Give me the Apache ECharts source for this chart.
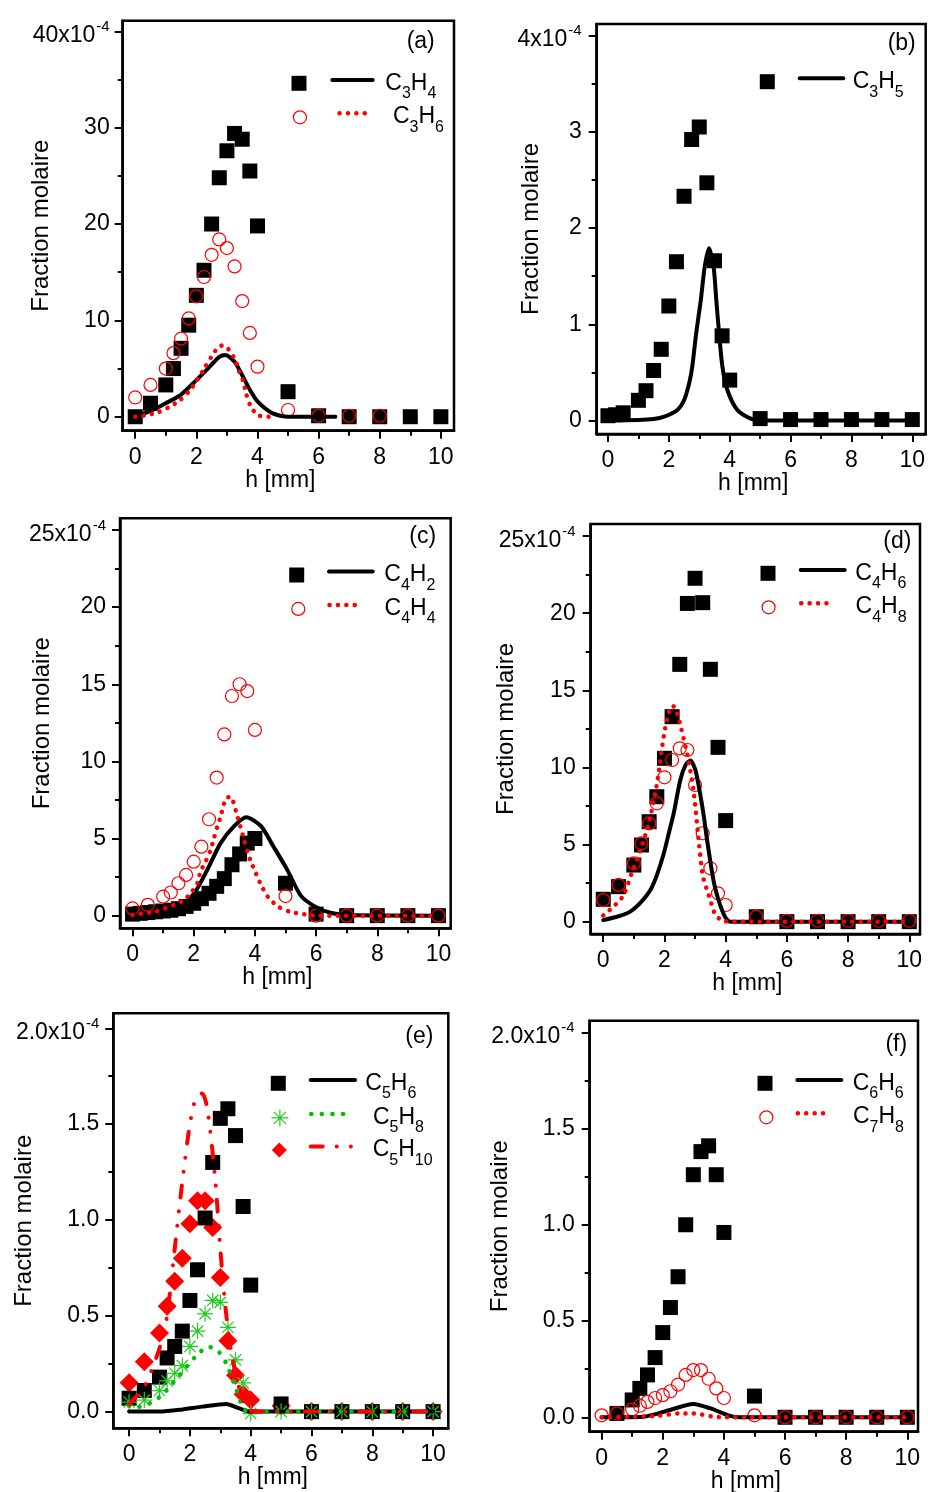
<!DOCTYPE html>
<html><head><meta charset="utf-8">
<script src="https://cdn.jsdelivr.net/npm/echarts@6/dist/echarts.min.js"></script>
<style>html,body{margin:0;padding:0;background:#fff}#c{width:928px;height:1492px}</style>
</head><body><div id="c"></div>
<script>
// ---------------- DATA ----------------
const hTickLabels = [0, 2, 4, 6, 8, 10];
const hMinorTicks = [1, 3, 5, 7, 9];

const aTicks = [0, 10, 20, 30, 40];        const aMinor = [5, 15, 25, 35];
const bTicks = [0, 1, 2, 3, 4];            const bMinor = [0.5, 1.5, 2.5, 3.5];
const cdTicks = [0, 5, 10, 15, 20, 25];    const cdMinor = [2.5, 7.5, 12.5, 17.5, 22.5];
const efTicks = [0, 0.5, 1, 1.5, 2];       const efMinor = [0.25, 0.75, 1.25, 1.75];

// (a)
const a_h_C3H4 = [0,0.5,1,1.25,1.5,1.75,2,2.25,2.5,2.75,3,3.25,3.5,3.75,4,5,6,7,8,9,10];
const a_C3H4 = [0,1.4,3.3,5.0,7.1,9.5,12.6,15.2,20.0,24.8,27.6,29.4,28.8,25.5,19.8,2.6,0.1,0,0,0,0];
const a_h_C3H6 = [0,0.5,1,1.25,1.5,1.75,2,2.25,2.5,2.75,3,3.25,3.5,3.75,4,5,6,7,8];
const a_C3H6 = [2.0,3.3,5.0,6.6,8.1,10.2,12.5,14.5,16.8,18.4,17.5,15.6,12.0,8.7,5.2,0.7,0.1,0.1,0.1];
const a_hm_C3H4 = [0,0.5,1,1.5,2,2.5,2.75,2.95,3.25,3.5,3.75,4,4.5,5,5.5,6.55];
const a_m_C3H4 = [0,0.6,1.4,2.3,3.8,5.4,6.2,6.4,5.7,4.3,2.8,1.6,0.35,0,0,0];
const a_hm_C3H6 = [0,0.38,0.71,1.09,1.47,1.78,2.04,2.26,2.48,2.73,2.88,3.05,3.27,3.38,3.52,3.63,3.76,4.0,4.4];
const a_m_C3H6 = [0,0.17,0.42,0.97,1.73,2.7,3.87,5.0,6.16,7.27,7.4,7.0,5.9,4.85,3.8,2.4,1.21,0.17,0];

// (b)
const b_h_C3H5 = [0,0.25,0.5,1,1.25,1.5,1.75,2,2.25,2.5,2.75,3,3.25,3.5,3.75,4,5,6,7,8,9,10];
const b_C3H5 = [0.05,0.06,0.08,0.21,0.31,0.52,0.74,1.19,1.65,2.33,2.92,3.05,2.47,1.66,0.88,0.42,0.02,0.01,0.01,0.01,0.01,0.01];
const b_hm_C3H5 = [0,1,1.5,1.85,2.28,2.5,2.67,2.77,2.9,3.05,3.18,3.32,3.47,3.56,3.65,3.76,3.92,4.25,4.69,5,10];
const b_m_C3H5 = [0,0.005,0.015,0.04,0.11,0.21,0.39,0.56,0.91,1.25,1.6,1.79,1.6,1.25,0.91,0.56,0.32,0.11,0.02,0,0];

// (c)
const c_h_C4H2 = [0,0.25,0.5,0.75,1,1.25,1.5,1.75,2,2.25,2.5,2.75,3,3.25,3.5,3.75,4,5,6,7,8,9,10];
const c_C4H2 = [0.1,0.15,0.2,0.25,0.3,0.35,0.45,0.6,0.8,1.1,1.45,1.9,2.4,3.3,4.0,4.7,5.0,2.1,0.1,0,0,0,0];
const c_h_C4H4 = [0,0.5,1,1.25,1.5,1.75,2,2.25,2.5,2.75,3,3.25,3.5,3.75,4,5,6,7,8,9,10];
const c_C4H4 = [0.47,0.7,1.23,1.5,2.1,2.64,3.5,4.47,6.25,8.95,11.75,14.24,15.0,14.56,12.04,1.27,0,0,0,0,0];
const c_hm_C4H2 = [0,0.5,1,1.5,2,2.44,2.88,3.32,3.72,4.2,4.6,5.05,5.5,6,6.5,7,10];
const c_m_C4H2 = [0,0.05,0.2,0.55,1.4,2.96,4.7,5.8,6.38,5.8,4.5,3.0,1.3,0.55,0.17,0.04,0];
const c_hm_C4H4 = [0,0.36,0.74,1.07,1.46,1.68,1.9,2.12,2.22,2.39,2.55,2.66,2.77,2.88,3.05,3.2,3.43,3.65,3.76,3.87,4.03,4.2,4.42,4.75,5.13,5.6,6,10];
const c_m_C4H4 = [0.05,0.15,0.26,0.48,0.8,1.02,1.45,2.1,2.86,3.51,4.26,5.02,5.77,6.42,7.6,7.7,6.42,4.9,4.15,3.5,2.75,1.99,1.23,0.6,0.26,0.1,0,0];

// (d)
const d_h = [0,0.5,1,1.25,1.5,1.75,2,2.25,2.5,2.75,3,3.25,3.5,3.75,4,5,6,7,8,9,10];
const d_C4H6 = [1.45,2.27,3.67,4.97,6.48,8.1,10.59,13.29,16.68,20.63,22.26,20.68,16.36,11.3,6.55,0.32,0,0,0,0,0];
const d_C4H8 = [1.4,2.38,3.78,5.08,6.37,7.67,9.36,10.48,11.24,11.13,8.86,5.73,3.46,1.84,1.08,0.32,0.06,0.06,0.06,0.06,0.06];
const d_hm_C4H6 = [0,0.5,0.88,1.25,1.54,1.75,1.98,2.15,2.3,2.52,2.7,2.85,3.0,3.1,3.25,3.4,3.6,3.75,3.88,4.0,4.15,10];
const d_m_C4H6 = [0.1,0.35,0.65,1.3,2.05,3.0,4.43,5.8,7.0,9.2,10.2,10.45,9.9,9.0,7.3,5.2,2.7,1.5,0.76,0.25,0,0];
const d_hm_C4H8 = [0,0.4,0.66,0.94,1.21,1.48,1.75,2.0,2.15,2.27,2.4,2.55,2.75,2.95,3.1,3.25,3.4,3.5,3.65,3.9,4.2,10];
const d_m_C4H8 = [0.4,1.1,1.7,3.2,4.65,6.3,8.9,12.3,13.6,14.0,13.6,12.5,10.8,8.5,5.6,3.0,2.0,1.4,0.5,0.05,0,0];

// (e)
const e_h = [0,0.5,1,1.25,1.5,1.75,2,2.25,2.5,2.75,3,3.25,3.5,3.75,4,5,6,7,8,9,10];
const e_C5H6 = [0.07,0.11,0.18,0.28,0.34,0.42,0.58,0.74,1.01,1.30,1.53,1.58,1.44,1.07,0.66,0.04,0,0,0,0,0];
const e_C5H8 = [0.05,0.06,0.11,0.16,0.2,0.24,0.34,0.42,0.51,0.58,0.57,0.44,0.27,0.15,-0.01,0,0,0,0,0,0];
const e_C5H10 = [0.15,0.26,0.41,0.55,0.68,0.80,0.98,1.10,1.10,0.96,0.70,0.37,0.19,0.09,0.06,0.03,0,0,0,0,0];
const e_hm_C5H6 = [0,1,1.7,2.4,3.2,3.6,4.0,10];
const e_m_C5H6 = [0,0,0.01,0.026,0.04,0.018,0,0];
const e_hm_C5H8 = [0,0.3,0.68,1.06,1.39,1.67,1.97,2.27,2.6,2.96,3.2,3.47,3.8,4.2,10];
const e_m_C5H8 = [0.03,0.025,0.044,0.083,0.14,0.19,0.25,0.30,0.34,0.31,0.25,0.14,0.01,0,0];
const e_hm_C5H10 = [0,0.5,1.0,1.25,1.5,1.75,2.0,2.2,2.4,2.55,2.7,2.85,3.0,3.1,3.2,3.35,3.5,3.7,3.9,4.5,10];
const e_m_C5H10 = [0.04,0.13,0.33,0.5,0.85,1.2,1.5,1.64,1.66,1.6,1.42,1.18,0.85,0.66,0.5,0.32,0.2,0.08,0.01,0,0];

// (f)
const f_h_C6H6 = [0.5,1,1.25,1.5,1.75,2,2.25,2.5,2.75,3,3.25,3.5,3.75,4,5,6,7,8,9,10];
const f_C6H6 = [0.02,0.09,0.15,0.22,0.31,0.44,0.57,0.73,1.0,1.26,1.38,1.41,1.26,0.96,0.11,0,0,0,0,0];
const f_h_C7H8 = [0,0.5,1,1.25,1.5,1.75,2,2.25,2.5,2.75,3,3.25,3.5,3.75,4,5,6,7,8,9,10];
const f_C7H8 = [0.01,0.02,0.04,0.06,0.08,0.1,0.115,0.135,0.17,0.22,0.245,0.245,0.2,0.15,0.1,0.01,0,0,0,0,0];
const f_hm_C6H6 = [0,1.36,2.23,3.0,3.54,4.2,4.5,10];
const f_m_C6H6 = [0,0.003,0.038,0.069,0.047,0.007,0,0];
const f_hm_C7H8 = [0,1,1.8,2.56,3.0,3.65,4,10];
const f_m_C7H8 = [0,0.002,0.007,0.02,0.02,0.003,0,0];

// ---------------- STYLE ----------------
const FONT = '"Liberation Sans", Arial, Helvetica, sans-serif';
const TICK_FS = 23;
const MK = {
  sq:   {symbol: 'rect', size: 15, leg: 15, style: {color: '#000', borderWidth: 0}},
  circ: {symbol: 'circle', size: 13, leg: 13, style: {color: 'rgba(0,0,0,0)', borderColor: '#ff0000', borderWidth: 1.2}},
  dia:  {symbol: 'diamond', size: 19, leg: 15, style: {color: '#ff0000', borderWidth: 0}},
  star: {symbol: 'path://M0,-10L0,10M-10,0L10,0M-7.07,-7.07L7.07,7.07M-7.07,7.07L7.07,-7.07', size: 16, leg: 17,
         style: {color: 'rgba(0,0,0,0)', borderColor: '#22cc22', borderWidth: 1.2}}
};
const LS = {
  solid:      {color: '#000', width: 4, type: 'solid', cap: 'round'},
  redDot:     {color: '#ff0000', width: 4.5, type: [0.1, 8.3], cap: 'round'},
  greenDot:   {color: '#00c000', width: 4.5, type: [0.1, 10.5], cap: 'round'},
  redDashDot: {color: '#ff0000', width: 4, type: [12, 14, 0.1, 14, 0.1, 14], cap: 'round'}
};

const panels = [
  {tag: '(a)', tagPos: [420.7, 41.7], grid: [122.7, 20.7, 331.3, 410], xr: [-0.41, 10.43], yr: [-1.45, 41.1],
   yTicks: aTicks, yMinor: aMinor, topText: '40x10', dec: 0, nameGap: 69, lblMargin: 13,
   series: [
     {name: 'C3H4 exp', kind: 'scatter', x: a_h_C3H4, y: a_C3H4, mk: 'sq', leg: {cx: 299, cy: 83.3}},
     {name: 'C3H6 exp', kind: 'scatter', x: a_h_C3H6, y: a_C3H6, mk: 'circ', leg: {cx: 299.3, cy: 116.7}},
     {name: 'C3H4', kind: 'line', x: a_hm_C3H4, y: a_m_C3H4, ls: 'solid', leg: {x0: 328.3, x1: 372.7, cy: 83.3, tx: 383.3}},
     {name: 'C3H6', kind: 'line', x: a_hm_C3H6, y: a_m_C3H6, ls: 'redDot', leg: {x0: 335, x1: 370, cy: 116.7, tx: 390.7}}
   ]},
  {tag: '(b)', tagPos: [901.7, 43.3], grid: [596.7, 24, 329, 410], xr: [-0.37, 10.44], yr: [-0.14, 4.12],
   yTicks: bTicks, yMinor: bMinor, topText: '4x10', dec: 0, nameGap: 53, lblMargin: 15,
   series: [
     {name: 'C3H5 exp', kind: 'scatter', x: b_h_C3H5, y: b_C3H5, mk: 'sq', leg: {cx: 767.3, cy: 81.7}},
     {name: 'C3H5', kind: 'line', x: b_hm_C3H5, y: b_m_C3H5, ls: 'solid', leg: {x0: 795.7, x1: 843.3, cy: 81.7, tx: 850.7}}
   ]},
  {tag: '(c)', tagPos: [422.7, 536.7], grid: [120, 518.3, 330.7, 410], xr: [-0.41, 10.4], yr: [-0.82, 25.76],
   yTicks: cdTicks, yMinor: cdMinor, topText: '25x10', dec: 0, nameGap: 66, lblMargin: 14,
   series: [
     {name: 'C4H2 exp', kind: 'scatter', x: c_h_C4H2, y: c_C4H2, mk: 'sq', leg: {cx: 296.7, cy: 575}},
     {name: 'C4H4 exp', kind: 'scatter', x: c_h_C4H4, y: c_C4H4, mk: 'circ', leg: {cx: 297.7, cy: 608.3}},
     {name: 'C4H2', kind: 'line', x: c_hm_C4H2, y: c_m_C4H2, ls: 'solid', leg: {x0: 325, x1: 372.7, cy: 575, tx: 382.3}},
     {name: 'C4H4', kind: 'line', x: c_hm_C4H4, y: c_m_C4H4, ls: 'redDot', leg: {x0: 325, x1: 362.7, cy: 608.3, tx: 382.3}}
   ]},
  {tag: '(d)', tagPos: [897.3, 541.7], grid: [590.7, 524, 329.3, 410], xr: [-0.41, 10.35], yr: [-0.8, 25.78],
   yTicks: cdTicks, yMinor: cdMinor, topText: '25x10', dec: 0, nameGap: 72, lblMargin: 15,
   series: [
     {name: 'C4H6 exp', kind: 'scatter', x: d_h, y: d_C4H6, mk: 'sq', leg: {cx: 768, cy: 573.3}},
     {name: 'C4H8 exp', kind: 'scatter', x: d_h, y: d_C4H8, mk: 'circ', leg: {cx: 768, cy: 606.7}},
     {name: 'C4H6', kind: 'line', x: d_hm_C4H6, y: d_m_C4H6, ls: 'solid', leg: {x0: 796.7, x1: 844.7, cy: 573.3, tx: 853.3}},
     {name: 'C4H8', kind: 'line', x: d_hm_C4H8, y: d_m_C4H8, ls: 'redDot', leg: {x0: 796.7, x1: 834, cy: 606.7, tx: 853.3}}
   ]},
  {tag: '(e)', tagPos: [419.3, 1036.7], grid: [113.3, 1013.3, 335, 415], xr: [-0.52, 10.5], yr: [-0.087, 2.078],
   yTicks: efTicks, yMinor: efMinor, topText: '2.0x10', dec: 1, nameGap: 77, lblMargin: 14,
   series: [
     {name: 'C5H10 exp', kind: 'scatter', x: e_h, y: e_C5H10, mk: 'dia', leg: {cx: 279.3, cy: 1150}},
     {name: 'C5H6 exp', kind: 'scatter', x: e_h, y: e_C5H6, mk: 'sq', leg: {cx: 278.3, cy: 1083.3}},
     {name: 'C5H8 exp', kind: 'scatter', x: e_h, y: e_C5H8, mk: 'star', leg: {cx: 279.3, cy: 1117.3}},
     {name: 'C5H6', kind: 'line', x: e_hm_C5H6, y: e_m_C5H6, ls: 'solid', leg: {x0: 306.7, x1: 355, cy: 1083.3, tx: 363.3}},
     {name: 'C5H8', kind: 'line', x: e_hm_C5H8, y: e_m_C5H8, ls: 'greenDot', leg: {x0: 306.7, x1: 343.3, cy: 1117.3, tx: 370.7}},
     {name: 'C5H10', kind: 'line', x: e_hm_C5H10, y: e_m_C5H10, ls: 'redDashDot', leg: {x0: 306.7, x1: 355, cy: 1150, tx: 370.7}}
   ]},
  {tag: '(f)', tagPos: [896.3, 1045], grid: [589.7, 1020.7, 328.3, 411], xr: [-0.39, 10.35], yr: [-0.075, 2.06],
   yTicks: efTicks, yMinor: efMinor, topText: '2.0x10', dec: 1, nameGap: 77, lblMargin: 15,
   series: [
     {name: 'C6H6 exp', kind: 'scatter', x: f_h_C6H6, y: f_C6H6, mk: 'sq', leg: {cx: 765, cy: 1083.3}},
     {name: 'C7H8 exp', kind: 'scatter', x: f_h_C7H8, y: f_C7H8, mk: 'circ', leg: {cx: 765.7, cy: 1116.7}},
     {name: 'C6H6', kind: 'line', x: f_hm_C6H6, y: f_m_C6H6, ls: 'solid', leg: {x0: 793.3, x1: 841.3, cy: 1083.3, tx: 850.7}},
     {name: 'C7H8', kind: 'line', x: f_hm_C7H8, y: f_m_C7H8, ls: 'redDot', leg: {x0: 793.3, x1: 830.7, cy: 1116.7, tx: 850.7}}
   ]}
];

// ---------------- BUILD ----------------
function formulaRich(name) {
  const parts = name.match(/[A-Za-z]+|\d+/g);
  return parts.map((p, i) => {
    const isNum = /^\d+$/.test(p);
    const st = isNum ? 's' : (i === 0 ? 'f' : 'n');
    return '{' + st + '|' + p + '}';
  }).join('');
}
const pair = (xs, ys) => xs.map((x, i) => [x, ys[i]]);

const grids = [], xAxes = [], yAxes = [], series = [], legends = [], graphics = [];
const tickLine = {color: '#000', width: 2};

panels.forEach((p, i) => {
  const [gl, gt, gw, gh] = p.grid;
  grids.push({left: gl, top: gt, width: gw, height: gh, show: true, borderColor: '#000', borderWidth: 2.5,
              containLabel: false, outerBoundsMode: 'none'});
  const top = p.yTicks[p.yTicks.length - 1];
  xAxes.push({
    gridIndex: i, type: 'value', min: p.xr[0], max: p.xr[1], position: 'bottom',
    axisLine: {onZero: false, lineStyle: {color: '#000', width: 2.5}},
    axisTick: {customValues: hTickLabels, length: 8, lineStyle: tickLine},
    axisLabel: {customValues: hTickLabels, margin: 15, fontSize: TICK_FS, fontFamily: FONT, color: '#000'},
    splitLine: {show: false},
    name: 'h [mm]', nameLocation: 'middle', nameGap: 38, nameMoveOverlap: false,
    nameTextStyle: {fontSize: 23, fontFamily: FONT, color: '#000', padding: [0, 16, 0, 0]}
  });
  xAxes.push({
    gridIndex: i, type: 'value', min: p.xr[0], max: p.xr[1], position: 'top', offset: -gh,
    axisLine: {show: false, onZero: false},
    axisTick: {customValues: hMinorTicks, inside: true, length: 5, lineStyle: tickLine},
    axisLabel: {show: false}, splitLine: {show: false}
  });
  yAxes.push({
    gridIndex: i, type: 'value', min: p.yr[0], max: p.yr[1], position: 'left',
    axisLine: {onZero: false, lineStyle: {color: '#000', width: 2.5}},
    axisTick: {customValues: p.yTicks, length: 8, lineStyle: tickLine},
    axisLabel: {
      customValues: p.yTicks, margin: p.lblMargin, fontSize: TICK_FS, fontFamily: FONT, color: '#000',
      formatter: (v) => Math.abs(v - top) < 1e-9 ? '{m|' + p.topText + '}{sup|-4}' : v.toFixed(p.dec),
      rich: {
        m: {fontSize: TICK_FS, fontFamily: FONT, color: '#000', lineHeight: 24, padding: [5, 0, 5, 0], verticalAlign: 'top'},
        sup: {fontSize: 15, fontFamily: FONT, color: '#000', lineHeight: 15, padding: [0, 0, 0, 1], verticalAlign: 'top'}
      }
    },
    splitLine: {show: false},
    name: 'Fraction molaire', nameLocation: 'middle', nameGap: p.nameGap, nameMoveOverlap: false,
    nameTextStyle: {fontSize: 24, fontFamily: FONT, color: '#000'}
  });
  yAxes.push({
    gridIndex: i, type: 'value', min: p.yr[0], max: p.yr[1], position: 'right', offset: -gw,
    axisLine: {show: false, onZero: false},
    axisTick: {customValues: p.yMinor, inside: true, length: 5, lineStyle: tickLine},
    axisLabel: {show: false}, splitLine: {show: false}
  });

  p.series.forEach((s) => {
    if (s.kind === 'scatter') {
      const m = MK[s.mk];
      series.push({
        type: 'scatter', name: s.name, xAxisIndex: 2 * i, yAxisIndex: 2 * i,
        symbol: m.symbol, symbolSize: m.size, itemStyle: Object.assign({opacity: 1}, m.style),
        data: pair(s.x, s.y), z: 2, emphasis: {disabled: true}
      });
      legends.push({
        show: true, selectedMode: false, data: [s.name], icon: m.symbol,
        left: s.leg.cx - m.leg / 2, top: s.leg.cy - m.leg / 2, padding: 0,
        itemWidth: m.leg, itemHeight: m.leg, itemGap: 0,
        formatter: () => '', textStyle: {fontSize: 1, lineHeight: 1},
        itemStyle: Object.assign({opacity: 1}, m.style)
      });
    } else {
      const l = LS[s.ls];
      series.push({
        type: 'line', name: s.name, xAxisIndex: 2 * i, yAxisIndex: 2 * i,
        symbol: 'none', showSymbol: false, smooth: 0.25,
        lineStyle: {color: l.color, width: l.width, type: l.type, cap: l.cap, join: 'round'},
        data: pair(s.x, s.y), z: 3, emphasis: {disabled: true}
      });
      const left = s.leg.x0 + l.width / 2;
      const w = s.leg.x1 - s.leg.x0 - l.width;
      const pad = Math.max(0, s.leg.tx - (left + w + 5));
      legends.push({
        show: true, selectedMode: false, data: [s.name],
        left: left, top: s.leg.cy - 17, padding: 0,
        itemWidth: w, itemHeight: 34, itemGap: 0,
        lineStyle: {color: l.color, width: l.width, type: l.type, cap: l.cap},
        itemStyle: {opacity: 0, color: 'rgba(0,0,0,0)', borderWidth: 0},
        formatter: (nm) => formulaRich(nm),
        textStyle: {
          color: '#000',
          rich: {
            f: {fontSize: 23, fontFamily: FONT, color: '#000', lineHeight: 24, padding: [4, 0, 6, pad], verticalAlign: 'top'},
            n: {fontSize: 23, fontFamily: FONT, color: '#000', lineHeight: 24, padding: [4, 0, 6, 0], verticalAlign: 'top'},
            s: {fontSize: 16, fontFamily: FONT, color: '#000', lineHeight: 16, padding: [18, 0, 0, 0], verticalAlign: 'top'}
          }
        }
      });
    }
  });

  graphics.push({
    type: 'text', x: p.tagPos[0], y: p.tagPos[1], z: 10,
    style: {text: p.tag, font: '23px ' + FONT, fontSize: 23, fontFamily: FONT, fill: '#000',
            textAlign: 'center', textVerticalAlign: 'middle', align: 'center', verticalAlign: 'middle'}
  });
});

const chart = echarts.init(document.getElementById('c'), null, {renderer: 'canvas'});
chart.setOption({
  backgroundColor: '#fff',
  animation: false,
  grid: grids, xAxis: xAxes, yAxis: yAxes, series: series, legend: legends,
  graphic: graphics
});
</script></body></html>
